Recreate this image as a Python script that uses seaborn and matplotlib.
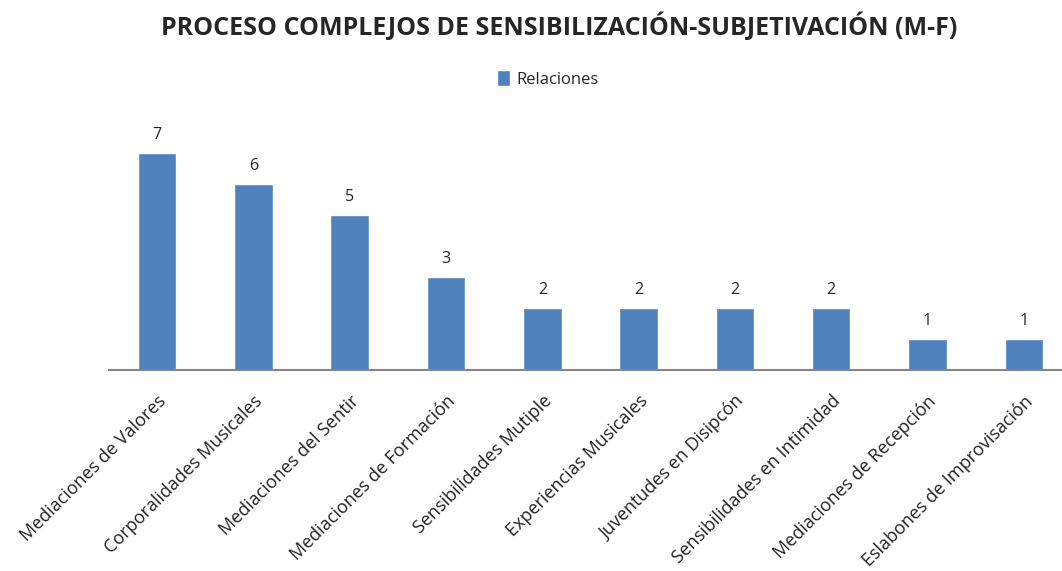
import pandas as pd
import matplotlib.pyplot as plt
import seaborn as sns

# Datos del gráfico
categorias = [
    "Mediaciones de Valores",
    "Corporalidades Musicales",
    "Mediaciones del Sentir",
    "Mediaciones de Formación",
    "Sensibilidades Mutiple",
    "Experiencias Musicales",
    "Juventudes en Disipcón",
    "Sensibilidades en Intimidad",
    "Mediaciones de Recepción",
    "Eslabones de Improvisación",
]
relaciones = [7, 6, 5, 3, 2, 2, 2, 2, 1, 1]

df = pd.DataFrame({"categoria": categorias, "Relaciones": relaciones})

sns.set_style("white")
plt.rcParams["font.family"] = ["Open Sans", "DejaVu Sans"]

fig = plt.figure(figsize=(10.62, 5.71), dpi=100)
ax = fig.add_axes([0.1026, 0.352, 0.9068, 0.44])

sns.barplot(data=df, x="categoria", y="Relaciones", color="#4F81BD",
            width=0.4, ax=ax, label="Relaciones", saturation=1)

for cont in ax.containers:
    ax.bar_label(cont, padding=7, fontsize=11.5, color="#222222")

ax.set_ylim(0, 8.1)
ax.set_xlim(-0.5, 9.5)
ax.set_xlabel("")
ax.set_ylabel("")
ax.set_yticks([])
for s in ["top", "right", "left"]:
    ax.spines[s].set_visible(False)
ax.spines["bottom"].set_color("#868686")
ax.spines["bottom"].set_linewidth(1.5)
ax.tick_params(axis="x", length=0, pad=16)
plt.setp(ax.get_xticklabels(), rotation=45, ha="right", rotation_mode="anchor",
         fontsize=13, color="#222222")

ax.legend(loc="center", bbox_to_anchor=(0.516, 0.862),
          bbox_transform=fig.transFigure, frameon=False, fontsize=12,
          handlelength=0.8, handleheight=1.1, handletextpad=0.4)

fig.suptitle("PROCESO COMPLEJOS DE SENSIBILIZACIÓN-SUBJETIVACIÓN (M-F)",
             x=0.527, y=0.978, fontsize=18, fontweight="bold")

fig.savefig("out.png", dpi=100)
